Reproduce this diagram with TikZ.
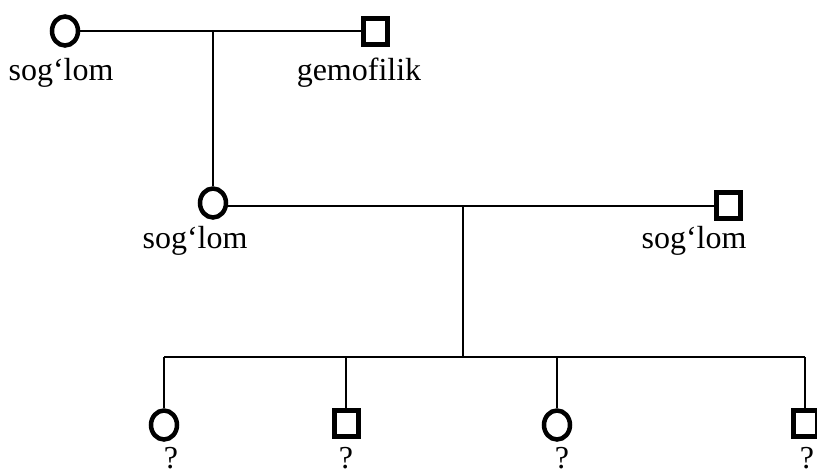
\documentclass[tikz,border=0pt]{standalone}
\usepackage{fontspec}
\setmainfont{Liberation Serif}
\usetikzlibrary{shapes.geometric}
\begin{document}
\begin{tikzpicture}[x=1pt,y=-1pt,
  female/.style={ellipse, draw, line width=4.5pt, minimum width=26pt, minimum height=29pt, inner sep=0pt},
  male/.style={rectangle, draw, line width=5pt, minimum width=24pt, minimum height=26pt, inner sep=0pt},
  lbl/.style={anchor=base, inner sep=0pt, font=\fontsize{32}{38}\selectfont},
  link/.style={line width=2pt}]
\useasboundingbox (0,0) rectangle (817,471);
% generation I
\node[female] (A) at (65,31) {};
\node[male] (B) at (375,31) {};
\node[lbl] (lA) at (61,80) {sog‘lom};
\node[lbl] (lB) at (359,80) {gemofilik};
% generation II
\node[female] (C) at (213,203) {};
\node[male] (D) at (728,205) {};
\node[lbl] (lC) at (195,248) {sog‘lom};
\node[lbl] (lD) at (694,248) {sog‘lom};
% generation III
\node[female] (E) at (164,425) {};
\node[male] (F) at (346,423) {};
\node[female] (G) at (557,425) {};
\node[male] (H) at (805,423) {};
\node[lbl] (lE) at (171,468) {?};
\node[lbl] (lF) at (346,468) {?};
\node[lbl] (lG) at (562,468) {?};
\node[lbl] (lH) at (807,468) {?};
% connectors
\coordinate (m1) at (213,31);
\coordinate (m2) at (463,206);
\coordinate (sib) at (463,357);
\coordinate (sE) at (164,357);
\coordinate (sF) at (346,357);
\coordinate (sG) at (557,357);
\coordinate (sH) at (805,357);
\draw[link] (A) -- (B);
\draw[link] (m1) -- (C);
\draw[link] (C.east |- m2) -- (D.west |- m2);
\draw[link] (m2) -- (sib);
\draw[link] (sE) -- (sH);
\draw[link] (sE) -- (E);
\draw[link] (sF) -- (F);
\draw[link] (sG) -- (G);
\draw[link] (sH) -- (H);
\end{tikzpicture}
\end{document}
